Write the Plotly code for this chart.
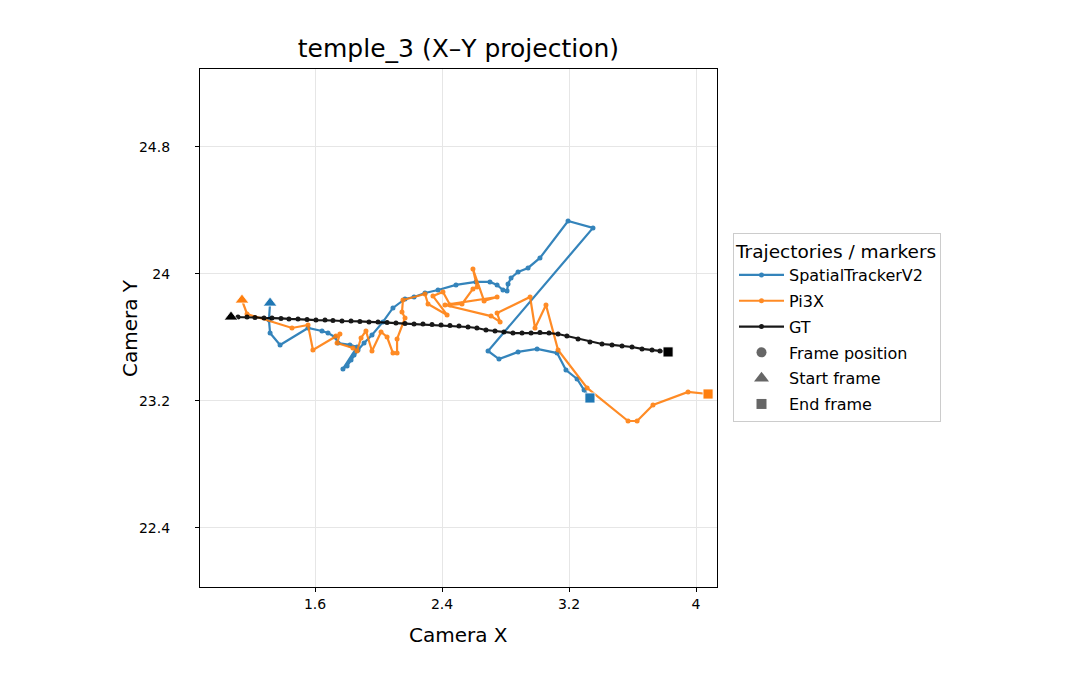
import plotly.graph_objects as go

# ---------------- data (camera X / Y positions) ----------------
st_x = [1.317, 1.310, 1.317, 1.380, 1.556, 1.644, 1.682, 1.726, 1.745, 1.820, 1.865,
        1.776, 1.802, 1.827, 1.846, 1.871, 1.909, 1.959, 2.028, 2.091, 2.167, 2.224,
        2.293, 2.375, 2.488, 2.614, 2.702, 2.747, 2.784, 2.810, 2.816, 2.835, 2.879,
        2.942, 3.017, 3.194, 3.351, 2.690, 2.759, 2.879, 2.999, 3.125, 3.181, 3.251,
        3.295, 3.332]
st_y = [23.817, 23.710, 23.628, 23.553, 23.660, 23.641, 23.628, 23.603, 23.565, 23.553, 23.540,
        23.402, 23.420, 23.458, 23.490, 23.521, 23.565, 23.616, 23.698, 23.786, 23.843, 23.855,
        23.880, 23.899, 23.931, 23.950, 23.950, 23.931, 23.899, 23.893, 23.937, 23.975, 24.013,
        24.038, 24.101, 24.334, 24.290, 23.515, 23.464, 23.509, 23.528, 23.502, 23.395, 23.339,
        23.269, 23.219]

pi_x = [1.140, 1.172, 1.455, 1.556, 1.587, 1.732, 1.757, 1.739, 1.839, 1.865, 1.890,
        1.921, 1.959, 2.016, 2.054, 2.091, 2.117, 2.117, 2.167, 2.148, 2.154, 2.293,
        2.312, 2.432, 2.343, 2.406, 2.451, 2.526, 2.595, 2.621, 2.595, 2.665, 2.747,
        2.419, 2.709, 2.766, 2.747, 2.955, 2.986, 3.055, 3.131, 3.314, 3.572, 3.629,
        3.729, 3.950, 4.076]
pi_y = [23.836, 23.748, 23.660, 23.679, 23.521, 23.609, 23.622, 23.565, 23.534, 23.515, 23.597,
        23.641, 23.515, 23.635, 23.603, 23.502, 23.502, 23.591, 23.723, 23.761, 23.836, 23.874,
        23.811, 23.742, 23.861, 23.887, 23.805, 23.811, 23.906, 23.918, 24.031, 23.830, 23.855,
        23.805, 23.735, 23.698, 23.754, 23.855, 23.660, 23.805, 23.521, 23.282, 23.074, 23.074,
        23.175, 23.257, 23.244]

gt_x = [1.071, 1.115, 1.172, 1.222, 1.279, 1.329, 1.386, 1.436, 1.493, 1.550, 1.606,
        1.663, 1.713, 1.770, 1.827, 1.883, 1.940, 1.997, 2.054, 2.110, 2.167, 2.224,
        2.280, 2.337, 2.394, 2.450, 2.507, 2.564, 2.620, 2.677, 2.734, 2.790, 2.847,
        2.904, 2.961, 3.017, 3.074, 3.131, 3.187, 3.257, 3.332, 3.408, 3.471, 3.534,
        3.597, 3.660, 3.723, 3.773, 3.824]
gt_y = [23.729, 23.729, 23.729, 23.726, 23.723, 23.723, 23.720, 23.717, 23.717, 23.713, 23.710,
        23.710, 23.707, 23.704, 23.704, 23.701, 23.698, 23.698, 23.694, 23.691, 23.688, 23.685,
        23.685, 23.682, 23.679, 23.676, 23.672, 23.666, 23.660, 23.647, 23.641, 23.635, 23.628,
        23.628, 23.628, 23.631, 23.628, 23.622, 23.609, 23.591, 23.572, 23.559, 23.553, 23.546,
        23.540, 23.528, 23.521, 23.515, 23.509]

x_ticks = [1.6, 2.4, 3.2, 4.0]
x_tick_labels = ["1.6", "2.4", "3.2", "4"]
y_ticks = [22.4, 23.2, 24.0, 24.8]
y_tick_labels = ["22.4", "23.2", "24", "24.8"]

series = [
    ("SpatialTrackerV2", st_x, st_y, "#1f77b4"),
    ("Pi3X", pi_x, pi_y, "#ff7f0e"),
    ("GT", gt_x, gt_y, "#000000"),
]

FONT = "DejaVu Sans"
fig = go.Figure()

for i, (name, xs, ys, col) in enumerate(series):
    fig.add_trace(go.Scatter(
        x=xs, y=ys, mode="lines+markers", name=name,
        line=dict(color=col, width=2.2), marker=dict(color=col, size=5),
        opacity=0.9, legendgroup="g%d" % i,
    ))

for name, xs, ys, col in series:
    fig.add_trace(go.Scatter(
        x=[xs[0]], y=[ys[0]], mode="markers", showlegend=False,
        marker=dict(symbol="triangle-up", size=12, color=col,
                    line=dict(color="white", width=0.8)),
    ))
    fig.add_trace(go.Scatter(
        x=[xs[-1]], y=[ys[-1]], mode="markers", showlegend=False,
        marker=dict(symbol="square", size=10, color=col,
                    line=dict(color="white", width=0.8)),
    ))

for j, (lbl, sym, sz) in enumerate([("Frame position", "circle", 10),
                                    ("Start frame", "triangle-up", 13),
                                    ("End frame", "square", 10)]):
    fig.add_trace(go.Scatter(
        x=[None], y=[None], mode="markers", name=lbl,
        marker=dict(symbol=sym, size=sz, color="#666666"),
        legendgroup="m%d" % j,
    ))

fig.update_layout(
    width=1080, height=690,
    margin=dict(l=200, r=363, t=69, b=103),
    paper_bgcolor="white", plot_bgcolor="white",
    font=dict(family=FONT, color="black", size=14),
    title=dict(text="temple_3 (X–Y projection)", x=0.4245, xanchor="center",
               y=1 - 48 / 690, yanchor="middle", font=dict(size=25, family=FONT)),
    showlegend=True,
    legend=dict(
        x=(733 - 200) / 517, y=(587 - 233) / 518, xanchor="left", yanchor="top",
        bgcolor="white", bordercolor="#cccccc", borderwidth=1,
        font=dict(size=16, family=FONT),
        title=dict(text="Trajectories / markers", font=dict(size=18.5, family=FONT)),
        traceorder="grouped", tracegroupgap=2, itemwidth=45,
    ),
    xaxis=dict(range=[0.8756, 4.1323], tickvals=x_ticks, ticktext=x_tick_labels,
               showgrid=True, gridcolor="#e6e6e6", gridwidth=1, zeroline=False,
               showline=True, linecolor="black", linewidth=1.2, mirror=True,
               ticks="outside", ticklen=4, tickcolor="black",
               tickfont=dict(size=14, family=FONT)),
    yaxis=dict(range=[22.0283, 25.2913], tickvals=y_ticks, ticktext=y_tick_labels,
               showgrid=True, gridcolor="#e6e6e6", gridwidth=1, zeroline=False,
               showline=True, linecolor="black", linewidth=1.2, mirror=True,
               ticks="outside", ticklen=4, tickcolor="black", ticklabelstandoff=22,
               tickfont=dict(size=14, family=FONT)),
    annotations=[
        dict(text="Camera X", xref="paper", yref="paper", x=0.5, y=-(635 - 587) / 518,
             xanchor="center", yanchor="middle", showarrow=False,
             font=dict(size=20, family=FONT)),
        dict(text="Camera Y", xref="paper", yref="paper", x=-(200 - 130) / 517, y=0.5,
             xanchor="center", yanchor="middle", showarrow=False, textangle=-90,
             font=dict(size=20, family=FONT)),
    ],
)

fig.write_html("out.html")
